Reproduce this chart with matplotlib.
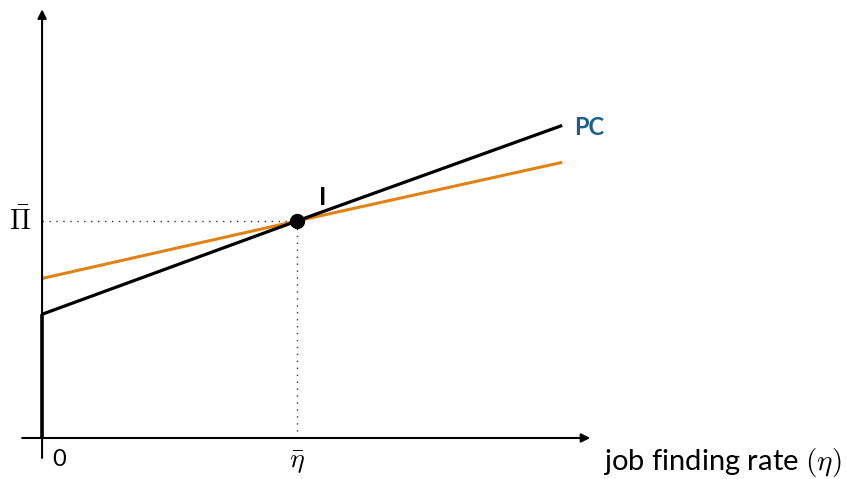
import numpy as np
import matplotlib.pyplot as plt

plt.rcParams['font.family'] = ['Lato', 'DejaVu Sans']
plt.rcParams['mathtext.fontset'] = 'cm'

# --- donnees (unites : eta_bar = 1, Pi_bar = 1) ---
eta = [0.0, 1.0, 2.04]
pc_noir = [0.57, 1.0, 1.44]
pc_orange = [0.735, 1.0, 1.27]
eta_bar = 1.0
pi_bar = 1.0

fig = plt.figure(figsize=(8.47, 4.79), dpi=100)
ax = fig.add_axes([0, 0, 1, 1])
ax.set_xlim(-0.165, 3.157)
ax.set_ylim(-0.189, 2.018)
ax.axis('off')

# axes avec fleches
ax.annotate('', xy=(2.15, 0), xytext=(-0.078, 0),
            arrowprops=dict(arrowstyle='-|>', color='black', lw=1.5,
                            mutation_scale=13, shrinkA=0, shrinkB=0))
ax.annotate('', xy=(0, 1.975), xytext=(0, -0.092),
            arrowprops=dict(arrowstyle='-|>', color='black', lw=1.5,
                            mutation_scale=13, shrinkA=0, shrinkB=0))

# pointilles vers le point I
ax.plot([0, eta_bar], [pi_bar, pi_bar], color='#333333', lw=1, ls=(0, (1, 4)))
ax.plot([eta_bar, eta_bar], [0, pi_bar], color='#333333', lw=1, ls=(0, (1, 4)))

# courbes
ax.plot(eta, pc_orange, color='#e08214', lw=2.2, solid_capstyle='butt')
ax.plot([0, 0], [0, pc_noir[0]], color='black', lw=2.6, solid_capstyle='butt')
ax.plot(eta, pc_noir, color='black', lw=2.3, solid_capstyle='butt')
ax.plot([eta_bar], [pi_bar], 'o', color='black', markersize=10)

# textes
ax.text(-0.085, pi_bar, r'$\bar{\Pi}$', fontsize=20, ha='center', va='center')
ax.text(eta_bar, -0.115, r'$\bar{\eta}$', fontsize=20, ha='center', va='center')
ax.text(0.065, -0.1, '0', fontsize=17, ha='center', va='center')
ax.text(2.2, -0.115, r'job finding rate $(\eta)$', fontsize=21,
        ha='left', va='center')
ax.text(2.085, 1.43, 'PC', fontsize=17, fontweight='bold', color='#1a5e8c',
        ha='left', va='center')
ax.text(1.1, 1.11, 'I', fontsize=18, fontweight='bold', ha='center', va='center')

plt.savefig('out.png', dpi=100)
